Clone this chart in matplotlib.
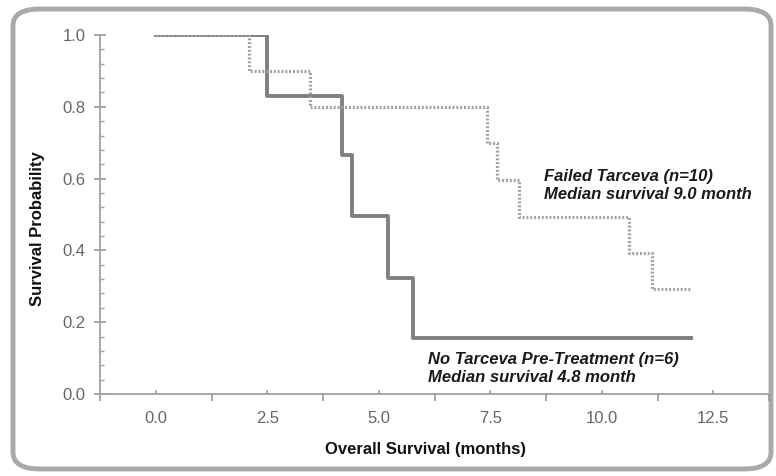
import matplotlib
matplotlib.use("Agg")
import matplotlib.pyplot as plt
from matplotlib.patches import FancyBboxPatch
from matplotlib.ticker import FixedLocator, NullFormatter, FixedFormatter

plt.rcParams['font.family'] = ['Liberation Sans', 'DejaVu Sans']

# Data
no_tarceva_t = [0.0, 2.5, 4.17, 4.41, 5.2, 5.76, 12.0]
no_tarceva_s = [1.0, 0.83, 0.665, 0.496, 0.323, 0.156, 0.156]
failed_t = [0.0, 2.08, 3.46, 7.43, 7.66, 8.15, 10.6, 11.12, 11.98]
failed_s = [1.0, 0.9, 0.8, 0.7, 0.595, 0.493, 0.393, 0.292, 0.292]

x_labels = ["0.0", "2.5", "5.0", "7.5", "10.0", "12.5"]
x_label_pos = [0.0, 2.5, 5.0, 7.5, 10.0, 12.5]
x_major = [-1.25, 1.25, 3.75, 6.25, 8.75, 11.25, 13.75]
y_major = [0.0, 0.2, 0.4, 0.6, 0.8, 1.0]
y_minor = [i * 0.04 for i in range(26)]

fig = plt.figure(figsize=(7.76, 4.76), dpi=100)
fig.patch.set_facecolor('white')

# rounded frame
frame = FancyBboxPatch((13/776, 1 - 469/476), (771-13)/776, (469-9)/476,
                       boxstyle="round,pad=0,rounding_size=0.035",
                       transform=fig.transFigure, facecolor='none',
                       edgecolor='#a9a9a9', linewidth=3.5, zorder=-10)
fig.patches.append(frame)

ax = fig.add_axes([100/776, 1 - 394/476, (769-100)/776, (394-35)/476])
ax.set_facecolor('none')
ax.set_zorder(5)

ax.step(no_tarceva_t, no_tarceva_s, where='post', color='#808080', lw=2.8, zorder=3)
ax.step(failed_t, failed_s, where='post', color='#a0a0a0', lw=2.3,
        linestyle=(0, (0.6, 0.6)), zorder=4)

ax.set_xlim(-1.25, 13.75)
ax.set_ylim(0, 1.0)

for s in ['top', 'right']:
    ax.spines[s].set_visible(False)
for s in ['left', 'bottom']:
    ax.spines[s].set_color('#a0a0a0')
    ax.spines[s].set_linewidth(1.3)

ax.xaxis.set_major_locator(FixedLocator(x_major))
ax.xaxis.set_major_formatter(NullFormatter())
ax.xaxis.set_minor_locator(FixedLocator(x_label_pos))
ax.xaxis.set_minor_formatter(FixedFormatter(x_labels))
ax.tick_params(axis='x', which='major', direction='out', length=5, width=1.3, color='#a0a0a0')
ax.tick_params(axis='x', which='minor', direction='in', length=3, width=1.2, color='#a0a0a0',
               labelsize=12, labelcolor='#666666', pad=12)

ax.yaxis.set_major_locator(FixedLocator(y_major))
ax.set_yticklabels([f"{v:.1f}" for v in y_major])
ax.yaxis.set_minor_locator(FixedLocator(y_minor))
ax.tick_params(axis='y', which='major', direction='inout', length=9, width=1.3, color='#a0a0a0',
               labelsize=12, labelcolor='#666666', pad=6)
ax.tick_params(axis='y', which='minor', direction='in', length=3, width=1.0, color='#a0a0a0')

ax.set_xlabel("Overall Survival (months)", fontsize=12, fontweight='bold', color='#111111')
ax.set_ylabel("Survival Probability", fontsize=12, fontweight='bold', color='#111111')
ax.xaxis.set_label_coords(0.486, -0.134)
ax.yaxis.set_label_coords(-0.082, 0.46)

ax.text(8.7, 0.627, "Failed Tarceva (n=10)\nMedian survival 9.0 month", fontsize=12,
        fontweight='bold', fontstyle='italic', color='#1a1a1a', va='top', ha='left', linespacing=1.22)
ax.text(6.1, 0.117, "No Tarceva Pre-Treatment (n=6)\nMedian survival 4.8 month", fontsize=12,
        fontweight='bold', fontstyle='italic', color='#1a1a1a', va='top', ha='left', linespacing=1.22)

fig.savefig("out.png", dpi=100)
